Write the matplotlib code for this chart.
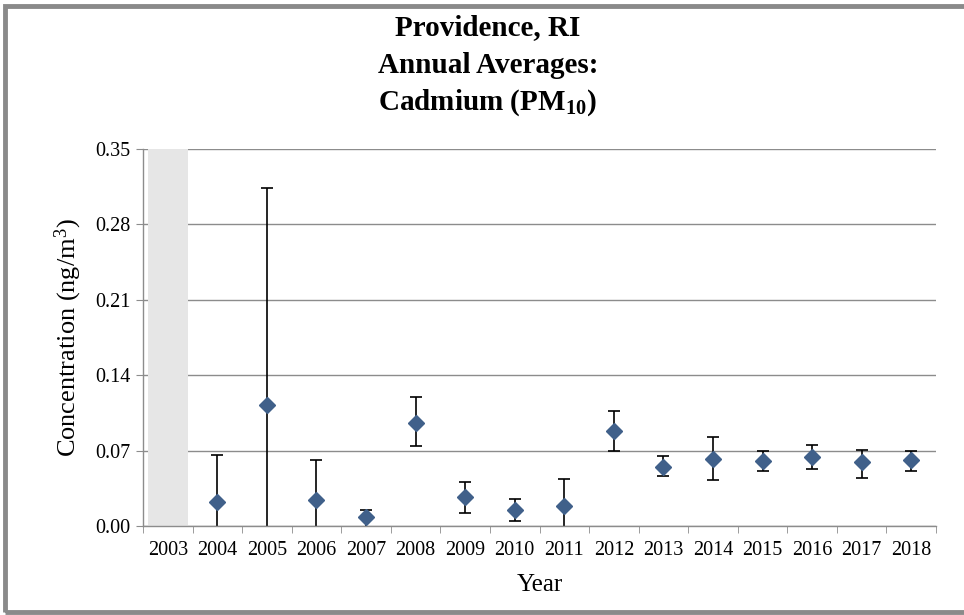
import matplotlib
matplotlib.use('Agg')
import matplotlib.pyplot as plt
from matplotlib.patches import Rectangle
import numpy as np

plt.rcParams['font.family'] = ['Liberation Serif', 'DejaVu Serif']
plt.rcParams['mathtext.fontset'] = 'custom'
plt.rcParams['mathtext.rm'] = 'Liberation Serif'
plt.rcParams['mathtext.it'] = 'Liberation Serif:italic'
plt.rcParams['mathtext.bf'] = 'Liberation Serif:bold'

# --- データ ---
years = ['2003', '2004', '2005', '2006', '2007', '2008', '2009', '2010',
         '2011', '2012', '2013', '2014', '2015', '2016', '2017', '2018']
# 2003 はデータなし（灰色の帯）
means = [np.nan, 0.022, 0.112, 0.024, 0.008, 0.096, 0.027, 0.015,
         0.019, 0.088, 0.055, 0.062, 0.060, 0.064, 0.059, 0.061]
lows = [np.nan, 0.000, 0.000, 0.000, 0.000, 0.074, 0.012, 0.005,
        0.000, 0.070, 0.046, 0.043, 0.051, 0.053, 0.045, 0.051]
highs = [np.nan, 0.066, 0.314, 0.061, 0.015, 0.120, 0.041, 0.025,
         0.044, 0.107, 0.065, 0.083, 0.070, 0.075, 0.071, 0.070]
no_data_years = ['2003']
no_data_height = 0.35

y_ticks = [0.00, 0.07, 0.14, 0.21, 0.28, 0.35]

grid_col = '#8c8c8c'
marker_col = '#40608a'

fig = plt.figure(figsize=(9.64, 6.15), dpi=100)
ax = fig.add_axes([0.1483, 0.1447, 0.971 - 0.1483, 0.7577 - 0.1447])

x = np.arange(len(years))
m = np.array(means)
lo = m - np.array(lows)
hi = np.array(highs) - m
zero = np.zeros_like(m)

# データなしの年
for yr in no_data_years:
    ax.bar(years.index(yr), no_data_height, width=0.8, color='#e6e6e6', zorder=1)

ebkw = dict(fmt='none', ecolor='black', elinewidth=1.2, capthick=1.2, zorder=2)
# 上側（キャップあり）
ax.errorbar(x, m, yerr=[zero, hi], capsize=4.5, **ebkw)
# 下側：0 まで伸びるものはキャップなし
clip = np.array(lows) <= 0
ax.errorbar(x[~clip], m[~clip], yerr=[lo[~clip], zero[~clip]], capsize=4.5, **ebkw)
ax.errorbar(x[clip], m[clip], yerr=[lo[clip], zero[clip]], capsize=0, **ebkw)
ax.plot(x, m, 'D', color=marker_col, ms=8.5, zorder=3)

ax.set_xlim(-0.5, len(years) - 0.5)
ax.set_ylim(0, 0.35)
ax.set_yticks(y_ticks)
ax.set_yticklabels([f'{v:.2f}' for v in y_ticks], fontsize=14.5)
ax.set_xticks(x)
ax.set_xticklabels(years, fontsize=14.5)
ax.set_xticks(np.arange(-0.5, len(years)), minor=True)
ax.tick_params(axis='x', which='major', length=0, pad=11)
ax.tick_params(axis='x', which='minor', length=5, color=grid_col, direction='out')
ax.tick_params(axis='y', length=5, color=grid_col, direction='out', pad=4)

ax.grid(axis='y', color=grid_col, linewidth=1, zorder=0)
ax.set_axisbelow(True)
for s in ['top', 'right']:
    ax.spines[s].set_visible(False)
for s in ['left', 'bottom']:
    ax.spines[s].set_color(grid_col)
    ax.spines[s].set_linewidth(1)

ax.set_ylabel('Concentration (ng/m$^3$)', fontsize=19, labelpad=8)
ax.set_xlabel('Year', fontsize=18, labelpad=10)

# タイトル（3行）
fig.text(0.506, 0.955, 'Providence, RI', ha='center', va='center',
         fontsize=21, fontweight='bold')
fig.text(0.506, 0.894, 'Annual Averages:', ha='center', va='center',
         fontsize=21, fontweight='bold')
fig.text(0.506, 0.833, r'Cadmium (PM$\mathbf{_{10}}$)', ha='center', va='center',
         fontsize=21, fontweight='bold')

# 外枠
fig.patches.append(Rectangle((0.005, 0.005), 1.2, 0.985, transform=fig.transFigure,
                             fill=False, edgecolor='#8a8a8a', linewidth=3.5))

fig.savefig('out.png', dpi=100)
